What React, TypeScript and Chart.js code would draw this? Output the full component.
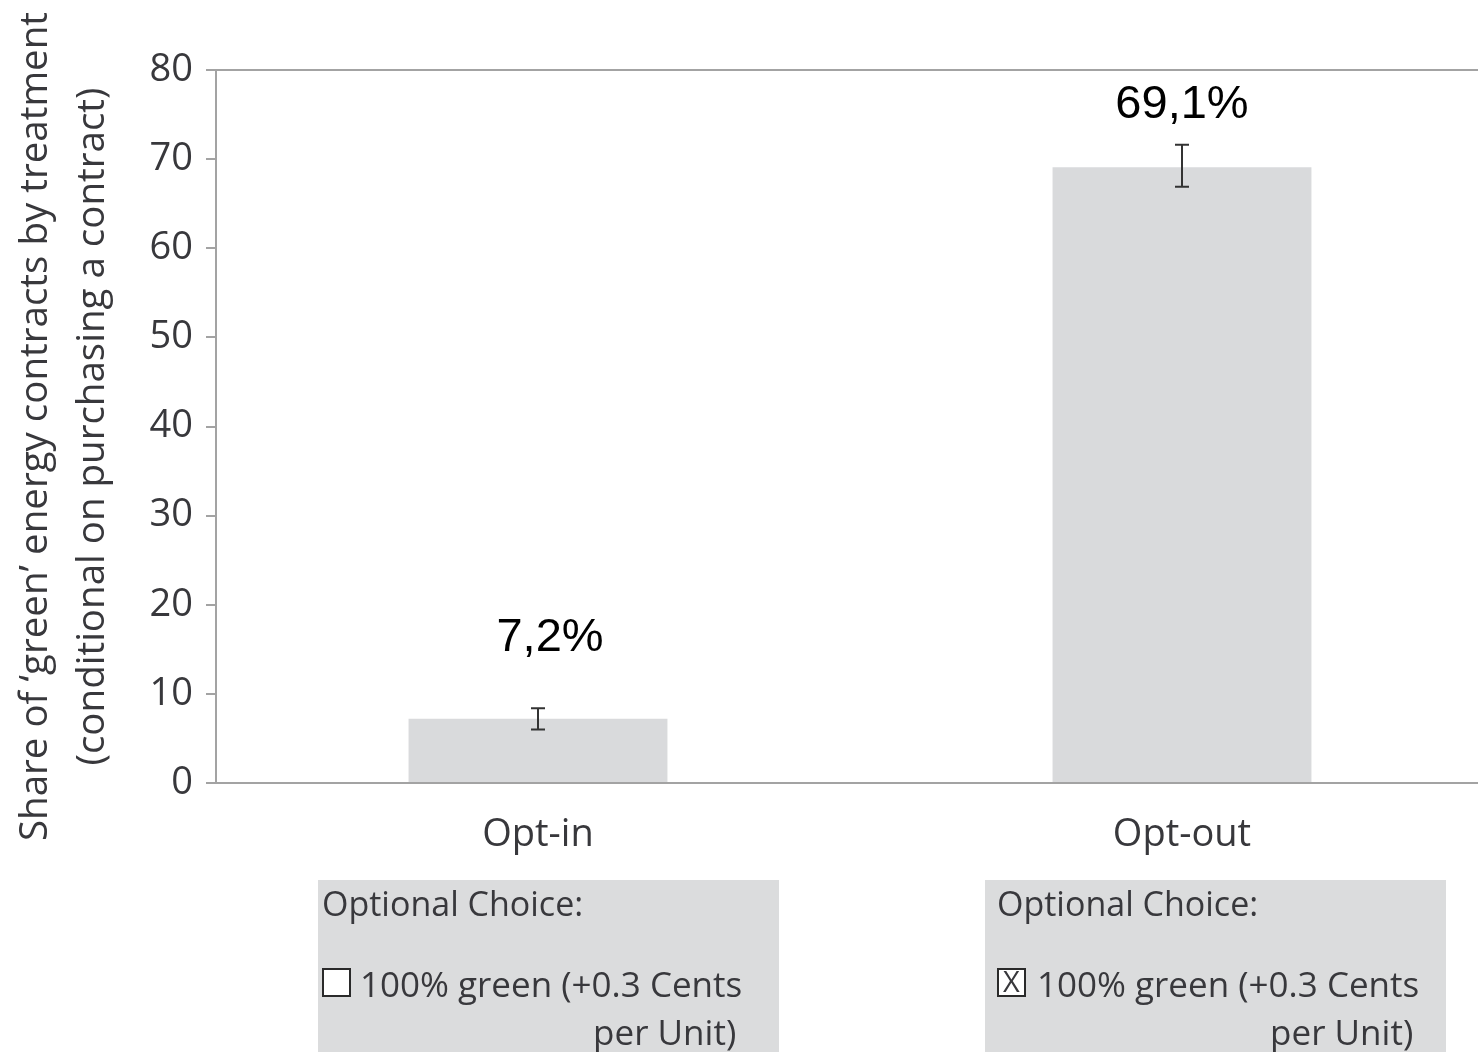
import React, { useEffect, useRef } from 'react';
import { Chart, registerables } from 'chart.js';

Chart.register(...registerables);

// ---- data ----
const categories = ['Opt-in', 'Opt-out'];
const shares = [7.2, 69.1];
const errorLow = [6.0, 66.9];
const errorHigh = [8.4, 71.6];
const valueLabels = ['7,2%', '69,1%'];
const yTicks = [0, 10, 20, 30, 40, 50, 60, 70, 80];
const yTitle = [
  'Share of \u2018green\u2019 energy contracts by treatment',
  '(conditional on purchasing a contract)',
];
const boxHeading = 'Optional Choice:';
const boxOptionLine1 = '100% green (+0.3 Cents';
const boxOptionLine2 = 'per Unit)';
const boxChecked = [false, true];

// ---- style ----
const FONT = '"Open Sans", "Noto Sans", sans-serif';
const TEXT = '#38383c';
const AXIS = '#a3a3a3';
const BAR = '#d9dadc';
const BOX = '#dbdcdd';

const labelDx = [12, 0];
const labelDy = [-70, -40];
const boxDx = [-220, -197];
const boxWidth = 461;
const headingDx = [4, 12];
const checkDx = [5, 13];
const checkGap = [10, 12];

const topLinePlugin = {
  id: 'topLine',
  afterDraw(chart: any) {
    const { ctx, chartArea } = chart;
    ctx.save();
    ctx.strokeStyle = AXIS;
    ctx.lineWidth = 2;
    ctx.beginPath();
    ctx.moveTo(chartArea.left, chartArea.top);
    ctx.lineTo(chart.width, chartArea.top);
    ctx.stroke();
    ctx.restore();
  },
};

const errorBarPlugin = {
  id: 'errorBars',
  afterDatasetsDraw(chart: any) {
    const { ctx } = chart;
    const y = chart.scales.y;
    const meta = chart.getDatasetMeta(0);
    ctx.save();
    ctx.strokeStyle = '#333333';
    ctx.lineWidth = 2;
    meta.data.forEach((bar: any, i: number) => {
      const x = bar.x;
      const yt = y.getPixelForValue(errorHigh[i]);
      const yb = y.getPixelForValue(errorLow[i]);
      ctx.beginPath();
      ctx.moveTo(x, yt);
      ctx.lineTo(x, yb);
      ctx.moveTo(x - 7, yt);
      ctx.lineTo(x + 7, yt);
      ctx.moveTo(x - 7, yb);
      ctx.lineTo(x + 7, yb);
      ctx.stroke();
    });
    ctx.restore();
  },
};

const valueLabelPlugin = {
  id: 'valueLabels',
  afterDatasetsDraw(chart: any) {
    const { ctx } = chart;
    const y = chart.scales.y;
    const meta = chart.getDatasetMeta(0);
    ctx.save();
    ctx.fillStyle = '#000000';
    ctx.font = '47px "Liberation Sans", Arial, sans-serif';
    ctx.textAlign = 'center';
    ctx.textBaseline = 'middle';
    meta.data.forEach((bar: any, i: number) => {
      const yt = y.getPixelForValue(errorHigh[i]);
      ctx.fillText(valueLabels[i], bar.x + labelDx[i], yt + labelDy[i]);
    });
    ctx.restore();
  },
};

const choiceBoxPlugin = {
  id: 'choiceBoxes',
  afterDraw(chart: any) {
    const { ctx, chartArea } = chart;
    const xs = chart.scales.x;
    const top = chartArea.bottom + 97;
    ctx.save();
    categories.forEach((_c, i) => {
      const cx = xs.getPixelForValue(i);
      const L = cx + boxDx[i];
      ctx.fillStyle = BOX;
      ctx.fillRect(L, top, boxWidth, chart.height - top);

      ctx.fillStyle = TEXT;
      ctx.font = `34px ${FONT}`;
      ctx.textBaseline = 'alphabetic';
      ctx.textAlign = 'left';
      ctx.fillText(boxHeading, L + headingDx[i], top + 36);

      // checkbox
      const bx = L + checkDx[i];
      const by = top + 89;
      const bs = 27;
      ctx.fillStyle = '#ffffff';
      ctx.fillRect(bx, by, bs, bs);
      ctx.strokeStyle = '#2a2a2a';
      ctx.lineWidth = 2;
      ctx.strokeRect(bx, by, bs, bs);
      if (boxChecked[i]) {
        ctx.fillStyle = TEXT;
        ctx.font = `29px ${FONT}`;
        ctx.textAlign = 'center';
        ctx.textBaseline = 'middle';
        ctx.fillText('X', bx + bs / 2, by + bs / 2 + 1);
      }

      ctx.fillStyle = TEXT;
      ctx.font = `35px ${FONT}`;
      ctx.textAlign = 'left';
      ctx.textBaseline = 'alphabetic';
      const tx = bx + bs + checkGap[i];
      ctx.fillText(boxOptionLine1, tx, top + 117);
      const w = ctx.measureText(boxOptionLine1).width;
      ctx.textAlign = 'right';
      ctx.fillText(boxOptionLine2, tx + w - 6, top + 165);
    });
    ctx.restore();
  },
};

export default function App() {
  const canvasRef = useRef<HTMLCanvasElement | null>(null);

  useEffect(() => {
    if (!canvasRef.current) return;
    const chart = new Chart(canvasRef.current, {
      type: 'bar',
      data: {
        labels: categories,
        datasets: [
          {
            data: shares,
            backgroundColor: BAR,
            borderWidth: 0,
            barPercentage: 0.402,
            categoryPercentage: 1,
          },
        ],
      },
      options: {
        animation: false,
        responsive: true,
        maintainAspectRatio: false,
        layout: { padding: { top: 70, right: 26, left: 0, bottom: 0 } },
        plugins: {
          legend: { display: false },
          tooltip: { enabled: false },
        },
        scales: {
          x: {
            offset: true,
            grid: { display: false, drawTicks: false },
            border: { display: true, color: AXIS, width: 2 },
            ticks: {
              padding: 29,
              color: TEXT,
              font: { family: FONT, size: 38 },
            },
            afterFit: (s: any) => {
              s.height = 269;
            },
          },
          y: {
            min: 0,
            max: 80,
            afterBuildTicks: (s: any) => {
              s.ticks = yTicks.map((v) => ({ value: v }));
            },
            afterFit: (s: any) => {
              s.width = 216;
            },
            grid: {
              drawOnChartArea: false,
              drawTicks: true,
              tickLength: 10,
              color: AXIS,
              lineWidth: 2,
            },
            border: { display: true, color: AXIS, width: 2 },
            ticks: {
              padding: 13,
              color: TEXT,
              font: { family: FONT, size: 38 },
            },
            title: {
              display: true,
              text: yTitle,
              color: TEXT,
              font: { family: FONT, size: 38.5, lineHeight: 1.48 },
              padding: { top: 8, bottom: 0 },
            },
          },
        },
      },
      plugins: [topLinePlugin, errorBarPlugin, valueLabelPlugin, choiceBoxPlugin],
    } as any);
    return () => chart.destroy();
  }, []);

  return (
    <div
      style={{
        position: 'fixed',
        left: 0,
        top: 0,
        width: '1478px',
        height: '1052px',
        overflow: 'hidden',
        background: '#ffffff',
      }}
    >
      <div style={{ position: 'relative', width: '1530px', height: '1052px' }}>
        <canvas ref={canvasRef} />
      </div>
    </div>
  );
}
